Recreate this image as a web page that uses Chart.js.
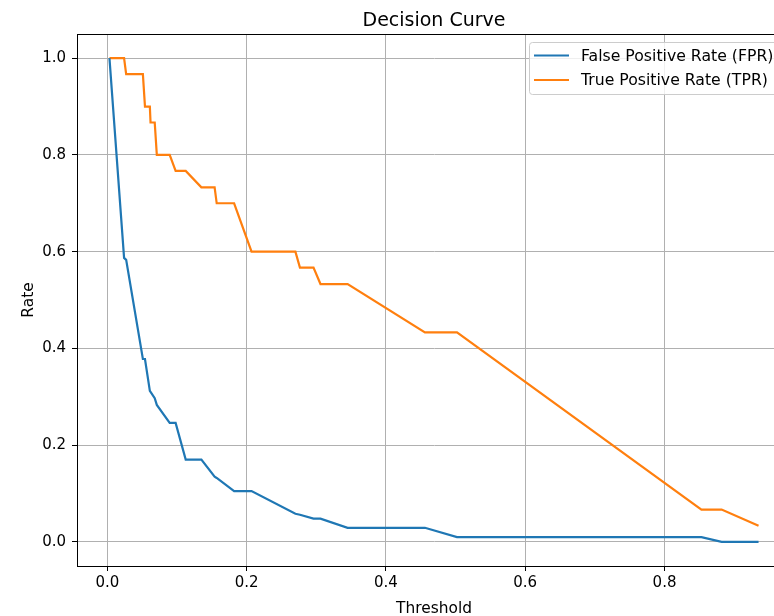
<!DOCTYPE html>
<html lang="en">
  <head>
    <meta charset="utf-8" />
    <title>Decision Curve</title>
    <script src="https://cdn.jsdelivr.net/npm/chart.js/dist/chart.umd.min.js"></script>
    <style>
      * {
        margin: 0;
        padding: 0;
      }
      body {
        width: 774px;
        height: 616px;
        overflow: hidden;
        background: #fff;
      }
      /* axes run a little past the right edge of the window, like the reference */
      .chartBox {
        width: 800px;
        height: 616px;
      }
    </style>
  </head>
  <body>
    <div class="chartBox"><canvas id="myChart"></canvas></div>

    <script>
      const thresholds = [
        0.003, 0.024, 0.027, 0.051, 0.054, 0.061, 0.062, 0.068, 0.071, 0.0895,
        0.098, 0.1125, 0.135, 0.154, 0.157, 0.182, 0.207, 0.27, 0.2765, 0.296,
        0.306, 0.345, 0.456, 0.502, 0.853, 0.882, 0.935,
      ];
      const fprValues = [
        1.0, 0.587, 0.583, 0.378, 0.378, 0.312, 0.31, 0.297, 0.283, 0.246,
        0.246, 0.17, 0.17, 0.1345, 0.132, 0.105, 0.105, 0.058, 0.056, 0.048,
        0.048, 0.029, 0.029, 0.0097, 0.0097, 0.0, 0.0,
      ];
      const tprValues = [
        1.0, 1.0, 0.967, 0.967, 0.9, 0.9, 0.867, 0.867, 0.8, 0.8,
        0.767, 0.767, 0.733, 0.733, 0.7, 0.7, 0.6, 0.6, 0.567, 0.567,
        0.533, 0.533, 0.433, 0.433, 0.0667, 0.0667, 0.0333,
      ];
      const seriesNames = ["False Positive Rate (FPR)", "True Positive Rate (TPR)"];
      const seriesColors = ["#1f77b4", "#ff7f0e"];
      const xTicks = [0.0, 0.2, 0.4, 0.6, 0.8];
      const yTicks = [0.0, 0.2, 0.4, 0.6, 0.8, 1.0];

      const FONT = "DejaVu Sans";

      const toPoints = (ys) => thresholds.map((t, i) => ({ x: t, y: ys[i] }));

      // title, axis labels, top/right spines and the legend box
      const decorPlugin = {
        id: "decor",
        afterDraw(chart) {
          const { ctx, chartArea: a } = chart;
          ctx.save();

          ctx.strokeStyle = "#000";
          ctx.lineWidth = 1;
          ctx.strokeRect(Math.round(a.left) + 0.5, Math.round(a.top) + 0.5,
            Math.round(a.right - a.left), Math.round(a.bottom - a.top));

          ctx.fillStyle = "#000";
          ctx.textAlign = "center";
          ctx.textBaseline = "alphabetic";
          ctx.font = `19px "${FONT}"`;
          ctx.fillText("Decision Curve", (a.left + a.right) / 2, a.top - 8);

          ctx.font = `15.4px "${FONT}"`;
          ctx.fillText("Threshold", (a.left + a.right) / 2, 612.5);

          ctx.save();
          ctx.translate(33.3, (a.top + a.bottom) / 2);
          ctx.rotate(-Math.PI / 2);
          ctx.fillText("Rate", 0, 0);
          ctx.restore();

          // legend (upper right)
          const bx = a.right - 262;
          const by = a.top + 8;
          const bw = 255;
          const bh = 52;
          ctx.beginPath();
          ctx.roundRect(bx + 0.5, by + 0.5, bw, bh, 3);
          ctx.fillStyle = "rgba(255,255,255,0.8)";
          ctx.fill();
          ctx.strokeStyle = "#cccccc";
          ctx.stroke();

          ctx.font = `15.7px "${FONT}"`;
          ctx.textAlign = "left";
          ctx.textBaseline = "middle";
          seriesNames.forEach((name, i) => {
            const ly = by + 13.5 + i * 24.5;
            ctx.strokeStyle = seriesColors[i];
            ctx.lineWidth = 2.2;
            ctx.beginPath();
            ctx.moveTo(bx + 5, ly);
            ctx.lineTo(bx + 40, ly);
            ctx.stroke();
            ctx.fillStyle = "#000";
            ctx.fillText(name, bx + 52, ly + 1);
          });

          ctx.restore();
        },
      };

      const tickFont = { family: FONT, size: 15 };

      const config = {
        type: "line",
        data: {
          datasets: [
            {
              label: seriesNames[0],
              data: toPoints(fprValues),
              borderColor: seriesColors[0],
              borderWidth: 2.2,
              pointRadius: 0,
              tension: 0,
            },
            {
              label: seriesNames[1],
              data: toPoints(tprValues),
              borderColor: seriesColors[1],
              borderWidth: 2.2,
              pointRadius: 0,
              tension: 0,
            },
          ],
        },
        options: {
          responsive: true,
          maintainAspectRatio: false,
          animation: false,
          layout: { padding: { top: 34, right: 9, left: 0, bottom: 0 } },
          plugins: {
            legend: { display: false },
            tooltip: { enabled: false },
          },
          scales: {
            x: {
              type: "linear",
              min: -0.0436,
              max: 0.9816,
              afterBuildTicks: (s) => {
                s.ticks = xTicks.map((v) => ({ value: v }));
              },
              afterFit: (s) => {
                s.height = 50;
              },
              grid: { color: "#b0b0b0", lineWidth: 1, tickColor: "#000", tickLength: 5 },
              border: { color: "#000", width: 1 },
              ticks: {
                color: "#000",
                font: tickFont,
                padding: 3,
                maxRotation: 0,
                callback: (v) => v.toFixed(1),
              },
            },
            y: {
              type: "linear",
              min: -0.05,
              max: 1.05,
              afterBuildTicks: (s) => {
                s.ticks = yTicks.map((v) => ({ value: v }));
              },
              afterFit: (s) => {
                s.width = 77;
              },
              grid: { color: "#b0b0b0", lineWidth: 1, tickColor: "#000", tickLength: 5 },
              border: { color: "#000", width: 1 },
              ticks: {
                color: "#000",
                font: tickFont,
                padding: 6,
                callback: (v) => v.toFixed(1),
              },
            },
          },
        },
        plugins: [decorPlugin],
      };

      const myChart = new Chart(document.getElementById("myChart"), config);
    </script>
  </body>
</html>
